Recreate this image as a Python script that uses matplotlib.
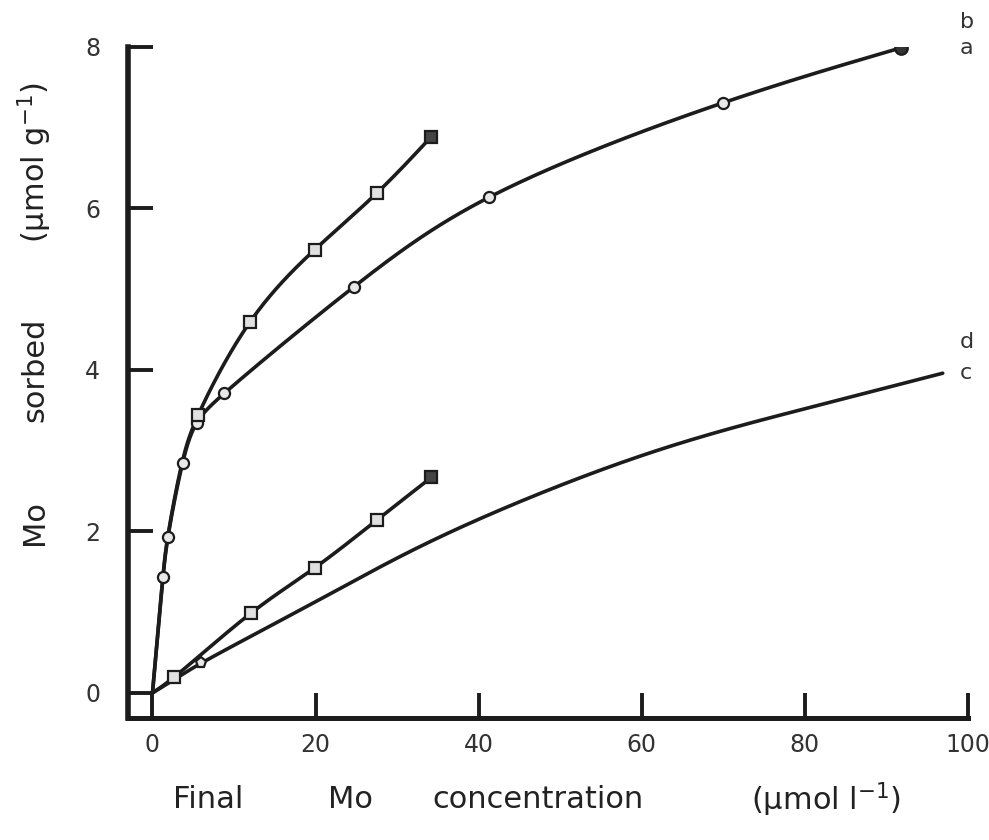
import numpy as np
import matplotlib
matplotlib.use("Agg")
import matplotlib.pyplot as plt

plt.rcParams['font.family'] = ['DejaVu Sans']

# ---- data ----
a_x = [0, 1.3, 1.9, 3.7, 5.4, 8.8, 24.7, 41.3, 70.0, 91.8]
a_y = [0, 1.44, 1.93, 2.85, 3.34, 3.71, 5.03, 6.14, 7.31, 7.99]

b_x = [0, 1.3, 1.9, 3.7, 5.6, 12.0, 19.9, 27.5, 34.2]
b_y = [0, 1.46, 1.95, 2.88, 3.44, 4.60, 5.49, 6.19, 6.89]

c_x = [0, 2.7, 6.0, 20.0, 35.2, 60.0, 80.0, 96.9]
c_y = [0, 0.17, 0.37, 1.13, 1.93, 2.94, 3.52, 3.96]

d_x = [0, 2.7, 12.1, 19.9, 27.5, 34.2]
d_y = [0, 0.20, 0.99, 1.55, 2.14, 2.67]

x_ticks = [0, 20, 40, 60, 80, 100]
y_ticks = [0, 2, 4, 6, 8]
curve_labels = ['b', 'a', 'd', 'c']
label_y = [8.31, 7.99, 4.35, 3.96]

INK = '#1c1c1c'


def _natural(t, v, ts):
    k = len(t)
    h = np.diff(t)
    A = np.zeros((k, k))
    r = np.zeros(k)
    A[0, 0] = 1
    A[-1, -1] = 1
    for i in range(1, k - 1):
        A[i, i - 1] = h[i - 1]
        A[i, i] = 2 * (h[i - 1] + h[i])
        A[i, i + 1] = h[i]
        r[i] = 6 * ((v[i + 1] - v[i]) / h[i] - (v[i] - v[i - 1]) / h[i - 1])
    M = np.linalg.solve(A, r)
    idx = np.clip(np.searchsorted(t, ts) - 1, 0, k - 2)
    hi = h[idx]
    t1 = t[idx + 1] - ts
    t0 = ts - t[idx]
    return (M[idx] * t1**3 / (6 * hi) + M[idx + 1] * t0**3 / (6 * hi)
            + (v[idx] / hi - M[idx] * hi / 6) * t1
            + (v[idx + 1] / hi - M[idx + 1] * hi / 6) * t0)


def smooth(x, y, n=600, sx=8.16, sy=80.75):
    """Parametric (chord-length) natural spline through the points,
    used only to render the hand-drawn curve smoothly."""
    x = np.asarray(x, float)
    y = np.asarray(y, float)
    seg = np.hypot(np.diff(x) * sx, np.diff(y) * sy)
    t = np.concatenate([[0], np.cumsum(np.sqrt(seg))])  # centripetal
    ts = np.linspace(0, t[-1], n)
    return _natural(t, x, ts), _natural(t, y, ts)


fig = plt.figure(figsize=(9.89, 8.40), dpi=100)
ax = fig.add_axes([128 / 989, 1 - 718 / 840, (968 - 128) / 989, (718 - 47) / 840])
ax.set_xlim(-3.0, 100)
ax.set_ylim(-0.31, 8.0)

for xs_, ys_ in [(a_x, a_y), (b_x, b_y), (c_x, c_y), (d_x, d_y)]:
    px, py = smooth(xs_, ys_)
    ax.plot(px, py, color=INK, lw=2.6, solid_capstyle='round', zorder=2)

# markers
ax.plot(a_x[1:-1], a_y[1:-1], 'o', ms=8, mfc='#e8e8e8', mec=INK, mew=1.6, zorder=3)
ax.plot(a_x[-1:], a_y[-1:], 'o', ms=9, mfc='#333333', mec=INK, mew=1.6, zorder=3)
ax.plot(b_x[4:-1], b_y[4:-1], 's', ms=8, mfc='#e0e0e0', mec=INK, mew=1.6, zorder=3)
ax.plot(b_x[-1:], b_y[-1:], 's', ms=8, mfc='#444444', mec=INK, mew=1.6, zorder=3)
ax.plot(d_x[1:-1], d_y[1:-1], 's', ms=8, mfc='#e0e0e0', mec=INK, mew=1.6, zorder=3)
ax.plot(d_x[-1:], d_y[-1:], 's', ms=8, mfc='#444444', mec=INK, mew=1.6, zorder=3)
ax.plot(c_x[2:3], c_y[2:3], 'p', ms=8, mfc='#e8e8e8', mec=INK, mew=1.6, zorder=3)

# axes styling
for s in ['top', 'right']:
    ax.spines[s].set_visible(False)
ax.spines['left'].set_linewidth(4.0)
ax.spines['bottom'].set_linewidth(3.6)
ax.spines['left'].set_color(INK)
ax.spines['bottom'].set_color(INK)
ax.spines['left'].set_capstyle('projecting')
ax.spines['bottom'].set_capstyle('projecting')

ax.set_xticks(x_ticks)
ax.set_yticks(y_ticks)
ax.set_xticklabels([str(v) for v in x_ticks])
ax.set_yticklabels([str(v) for v in y_ticks])
ax.tick_params(axis='both', direction='in', length=18, width=2.8, color=INK,
               labelsize=17, labelcolor='#333333')
ax.tick_params(axis='x', pad=11)
ax.tick_params(axis='y', pad=20)

# curve labels
for lab, ly in zip(curve_labels, label_y):
    ax.text(99.0, ly, lab, fontsize=16, color='#333333', ha='left', va='center',
            clip_on=False)

# axis titles, spaced like the original
xt = [("Final", 208), ("Mo", 350), ("concentration", 538), ("(µmol l$^{-1}$)", 826)]
for txt, px in xt:
    fig.text(px / 989, 1 - 800 / 840, txt, fontsize=22, color='#222222',
             ha='center', va='center')
yt = [("Mo", 523), ("sorbed", 370), ("(µmol g$^{-1}$)", 162)]
for txt, py in yt:
    fig.text(35 / 989, 1 - py / 840, txt, fontsize=22, color='#222222',
             ha='center', va='center', rotation=90)

fig.savefig('out.png', dpi=100, facecolor='white')
